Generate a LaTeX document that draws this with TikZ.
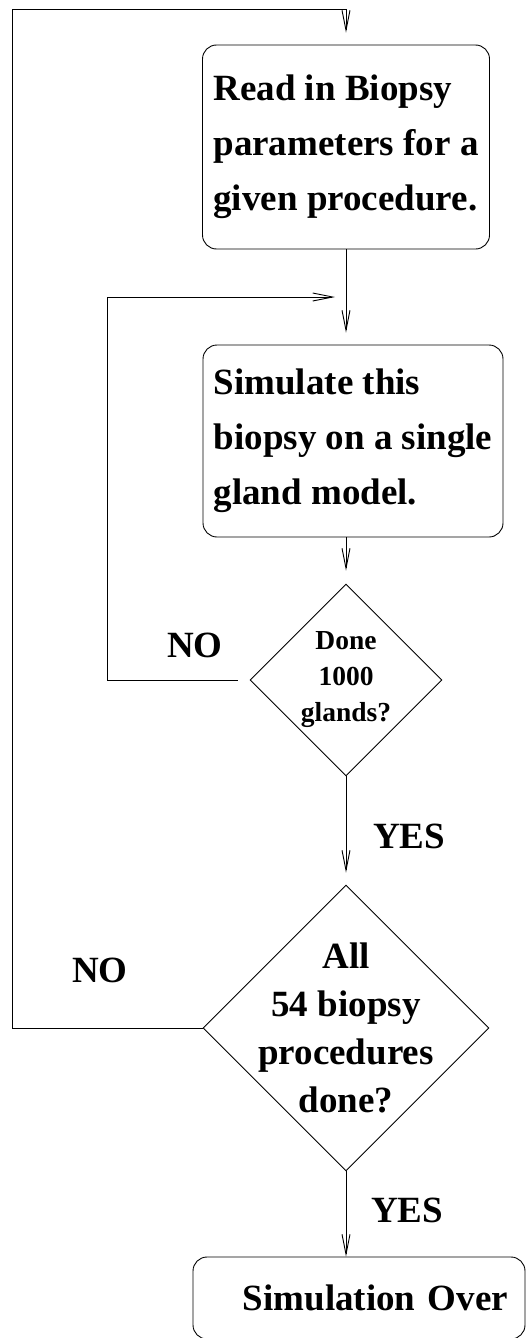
\documentclass[tikz,border=0pt]{standalone}
\usepackage{fontspec}
\setmainfont{Liberation Serif}
\usetikzlibrary{shapes.geometric,arrows.meta}

\tikzset{
  procbox/.style={draw, rounded corners=14pt, align=left,
    font=\bfseries\fontsize{37}{55}\selectfont},
  decide/.style={draw, diamond, inner sep=-20pt, align=center},
  lbl/.style={font=\bfseries\fontsize{37}{44}\selectfont, inner sep=0pt},
}

\begin{document}
\begin{tikzpicture}[x=1pt,y=-1pt,line width=0.9pt,
    >={Straight Barb[length=20pt,width=8pt]}]
  \useasboundingbox (0,0) rectangle (526,1338);
  % Process boxes
  \node[procbox, minimum width=287pt, minimum height=204pt] (read) at (346,147)
    {Read in Biopsy\\parameters for a\\given procedure.};
  \node[procbox, minimum width=300pt, minimum height=192pt] (sim) at (353,441)
    {Simulate this\\biopsy on a single\\gland model.};
  \node[procbox, minimum width=332pt, minimum height=82pt, text width=298pt,
    inner xsep=17pt, align=right] (over) at (359,1298) {Simulation Over};
  % Decisions
  \node[decide, minimum size=192pt, font=\bfseries\fontsize{27.5}{36}\selectfont]
    (done) at (346,680) {Done\\1000\\glands?};
  \node[decide, minimum size=286pt, font=\bfseries\fontsize{37}{48}\selectfont]
    (all) at (346,1028) {All\\54 biopsy\\procedures\\done?};
  % Answers
  \node[lbl] (no1) at (195,645) {NO};
  \node[lbl] (no2) at (100,970) {NO};
  \node[lbl] (yes1) at (409,836) {YES};
  \node[lbl] (yes2) at (407,1210) {YES};
  % Flow
  \coordinate (outer) at (12,9);
  \coordinate (inner) at (107,297);
  \draw[->] (read.south) -- ([yshift=12pt]sim.north -| read.south);
  \draw[->] (sim.south -| done.north) -- ([yshift=13pt]done.north);
  \draw[->] (done.south) -- ([yshift=12pt]all.north);
  \draw[->] (all.south) -- (all.south |- over.north);
  % Loops back
  \draw[->] ([xshift=-12pt]done.west) -| (inner) -- ([xshift=-11pt]inner -| done.north);
  \draw[->] (all.west) -| (outer) -- (outer -| read.north) -- ([yshift=12pt]read.north);
\end{tikzpicture}
\end{document}
